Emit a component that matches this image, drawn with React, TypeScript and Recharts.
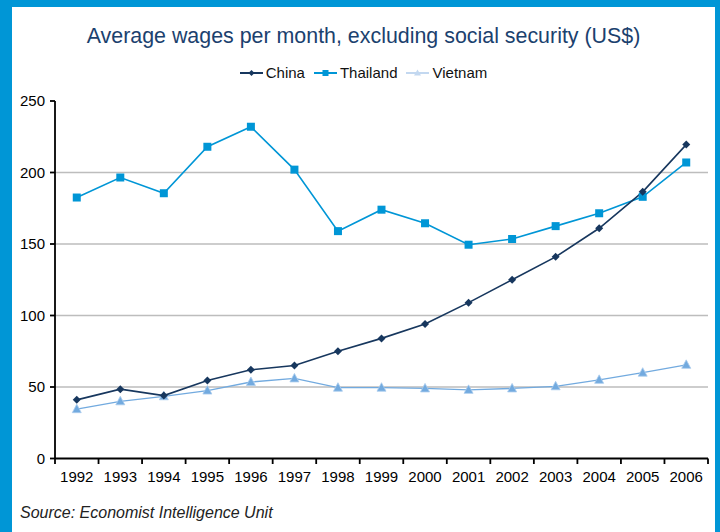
import React from 'react';
import { LineChart, Line, XAxis, YAxis, CartesianGrid, Legend } from 'recharts';

const years = ['1992', '1993', '1994', '1995', '1996', '1997', '1998', '1999', '2000', '2001', '2002', '2003', '2004', '2005', '2006'];
const china = [41, 48.5, 44, 54.5, 62, 65, 75, 84, 94, 109, 125, 141, 161, 186.5, 219.5];
const thailand = [182.5, 196.5, 185.5, 218, 232, 202, 159, 174, 164.5, 149.5, 153.5, 162.5, 171.5, 183, 207];
const vietnam = [34.5, 40, 43.5, 47.5, 53.5, 56, 49.5, 49.5, 49, 48, 49, 50.5, 55, 60, 65.5];
const yTicks = [0, 50, 100, 150, 200, 250];
const gridValues = [50, 100, 150, 200];

const COL_CHINA = '#17375E';
const COL_THAI = '#0096D6';
const COL_VIET = '#72AADF';
const COL_VIET_LEGEND = '#C3D8F0';
const FONT = '"Liberation Sans", Arial, Helvetica, sans-serif';

const data = years.map((y, i) => ({ year: y, China: china[i], Thailand: thailand[i], Vietnam: vietnam[i] }));

const Diamond = (props: any) => {
  const { cx, cy } = props;
  if (cx == null || cy == null) return null;
  return <path d={`M${cx},${cy - 4}L${cx + 4},${cy}L${cx},${cy + 4}L${cx - 4},${cy}Z`} fill={COL_CHINA} />;
};
const Square = (props: any) => {
  const { cx, cy } = props;
  if (cx == null || cy == null) return null;
  return <rect x={cx - 4} y={cy - 4} width={8} height={8} fill={COL_THAI} />;
};
const Triangle = (props: any) => {
  const { cx, cy } = props;
  if (cx == null || cy == null) return null;
  return <path d={`M${cx},${cy - 5}L${cx + 4.5},${cy + 3.5}L${cx - 4.5},${cy + 3.5}Z`} fill={COL_VIET} stroke="#A9CBEE" strokeWidth={0.8} />;
};

const XTick = (props: any) => {
  const { x, y, payload, index } = props;
  const half = payload && payload.offset ? payload.offset : 21.77;
  const last = index === years.length - 1;
  return (
    <g>
      <line x1={x - half} x2={x - half} y1={y} y2={y + 5.5} stroke="#000" strokeWidth={1.8} />
      {last && <line x1={x + half} x2={x + half} y1={y} y2={y + 5.5} stroke="#000" strokeWidth={1.8} />}
      <text x={x} y={y + 23} textAnchor="middle" fontSize={15} fill="#000" fontFamily={FONT}>
        {payload.value}
      </text>
    </g>
  );
};

const legendItems = [
  { name: 'China', color: COL_CHINA, marker: 'diamond' },
  { name: 'Thailand', color: COL_THAI, marker: 'square' },
  { name: 'Vietnam', color: COL_VIET_LEGEND, marker: 'triangle' },
];

const LegendContent = () => (
  <div style={{ display: 'flex', justifyContent: 'center', alignItems: 'center', fontFamily: FONT, fontSize: 15, color: '#111' }}>
    {legendItems.map((it, i) => (
      <div key={it.name} style={{ display: 'flex', alignItems: 'center', marginLeft: i === 0 ? 0 : 9 }}>
        <svg width={23} height={10} style={{ display: 'block' }}>
          <line x1={0} x2={23} y1={5} y2={5} stroke={it.color} strokeWidth={2} />
          {it.marker === 'diamond' && <path d="M11.5,2L14.5,5L11.5,8L8.5,5Z" fill={it.color} />}
          {it.marker === 'square' && <rect x={8.5} y={2} width={6} height={6} fill={it.color} />}
          {it.marker === 'triangle' && <path d="M11.5,1.5L15,7.5L8,7.5Z" fill={it.color} />}
        </svg>
        <span style={{ marginLeft: 3 }}>{it.name}</span>
      </div>
    ))}
  </div>
);

export default function App() {
  return (
    <div style={{ position: 'absolute', left: 0, top: 0, width: 720, height: 532, background: '#0096D6', overflow: 'hidden' }}>
      <div style={{ position: 'absolute', left: 12, top: 7, width: 703, height: 525, background: '#fff' }} />
      <div style={{ position: 'absolute', left: 7, top: 24, width: 713, textAlign: 'center', fontFamily: FONT, fontSize: 21.4, color: '#1B416E' }}>
        Average wages per month, excluding social security (US$)
      </div>
      <div style={{ position: 'absolute', left: 20, top: 504, fontFamily: FONT, fontSize: 16, fontStyle: 'italic', color: '#222' }}>
        Source: Economist Intelligence Unit
      </div>
      <div style={{ position: 'absolute', left: 0, top: 0 }}>
        <LineChart width={720} height={532} data={data} margin={{ top: 101, right: 12, bottom: 33.5, left: 10 }}>
          <CartesianGrid vertical={false} horizontalValues={gridValues} stroke="#BDBDBD" strokeWidth={1.5} />
          <XAxis
            dataKey="year"
            scale="band"
            interval={0}
            tickLine={false}
            tickSize={0}
            tickMargin={0}
            axisLine={{ stroke: '#000', strokeWidth: 1.8 }}
            tick={<XTick />}
            height={40}
          />
          <YAxis
            width={45}
            domain={[0, 250]}
            ticks={yTicks}
            interval={0}
            tickSize={5}
            tickMargin={5}
            axisLine={{ stroke: '#000', strokeWidth: 1.8 }}
            tickLine={{ stroke: '#000', strokeWidth: 1.8 }}
            tick={{ fontSize: 15, fill: '#000', fontFamily: FONT }}
          />
          <Legend
            layout="horizontal"
            verticalAlign="middle"
            align="center"
            content={<LegendContent />}
            wrapperStyle={{ position: 'absolute', top: 64, left: 7, width: 713 }}
          />
          <Line type="linear" dataKey="Vietnam" stroke={COL_VIET} strokeWidth={1.3} dot={<Triangle />} activeDot={false} isAnimationActive={false} />
          <Line type="linear" dataKey="Thailand" stroke={COL_THAI} strokeWidth={1.6} dot={<Square />} activeDot={false} isAnimationActive={false} />
          <Line type="linear" dataKey="China" stroke={COL_CHINA} strokeWidth={1.6} dot={<Diamond />} activeDot={false} isAnimationActive={false} />
        </LineChart>
      </div>
    </div>
  );
}
